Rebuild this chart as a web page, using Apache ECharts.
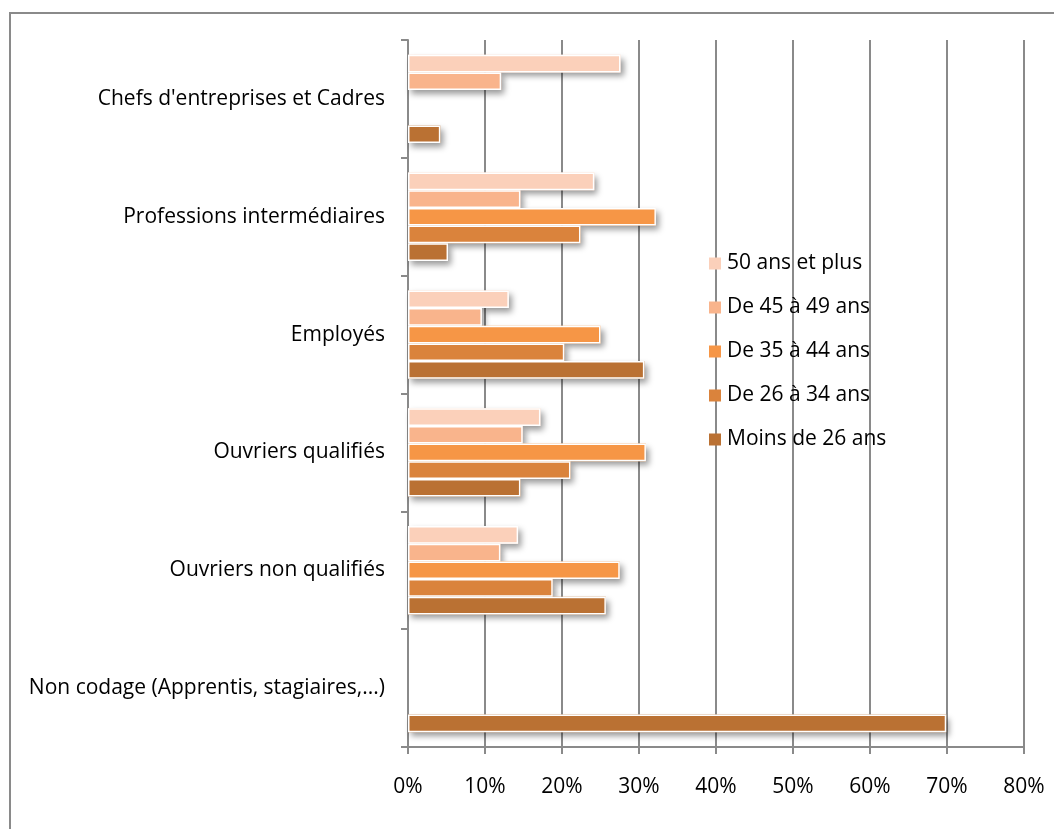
<!DOCTYPE html>
<html>
<head>
<meta charset="utf-8">
<script src="https://cdn.jsdelivr.net/npm/echarts@6/dist/echarts.min.js"></script>
<style>
  html, body { margin: 0; padding: 0; background: #fff; }
  #chart { width: 1054px; height: 829px; }
</style>
</head>
<body>
<div id="chart"></div>
<script>
// categories, top to bottom
const categories = [
  "Chefs d'entreprises et Cadres",
  'Professions intermédiaires',
  'Employés',
  'Ouvriers qualifiés',
  'Ouvriers non qualifiés',
  'Non codage (Apprentis, stagiaires,...)'
]
const seriesNames = ['50 ans et plus', 'De 45 à 49 ans', 'De 35 à 44 ans', 'De 26 à 34 ans', 'Moins de 26 ans']
// values in %
const ans50plus = [27.6, 24.2, 13.1, 17.2, 14.3, null]
const de45a49 = [12.1, 14.6, 9.6, 14.9, 12.0, null]
const de35a44 = [null, 32.2, 25.0, 30.9, 27.5, null]
const de26a34 = [null, 22.4, 20.3, 21.1, 18.8, null]
const moins26 = [4.2, 5.2, 30.7, 14.6, 25.7, 69.9]
const xTicks = [0, 10, 20, 30, 40, 50, 60, 70, 80]

const colors = ['#FBD0BA', '#F9B48C', '#F69646', '#DA833C', '#BA7133']
const values = [ans50plus, de45a49, de35a44, de26a34, moins26]
const font = '"Open Sans", "Noto Sans", sans-serif'
const gray = '#8a8a8a'

const chart = echarts.init(document.getElementById('chart'))

// shadow layer (yAxis 0) drawn first, bordered bars (yAxis 1) on top
const shadowSeries = seriesNames.map((name, i) => ({
  name: name,
  type: 'bar',
  yAxisIndex: 0,
  data: values[i],
  barGap: '0%',
  barCategoryGap: '25%',
  itemStyle: {
    color: colors[i],
    shadowColor: 'rgba(0,0,0,0.4)',
    shadowBlur: 6,
    shadowOffsetX: 3,
    shadowOffsetY: 4
  }
}))
const barSeries = seriesNames.map((name, i) => ({
  name: name,
  type: 'bar',
  yAxisIndex: 1,
  data: values[i],
  barGap: '0%',
  barCategoryGap: '25%',
  itemStyle: {
    color: colors[i],
    borderColor: '#fff',
    borderWidth: 1.5
  }
}))

chart.setOption({
  animation: false,
  textStyle: { fontFamily: font },
  graphic: [{
    type: 'rect',
    shape: { x: 10, y: 13, width: 1100, height: 900 },
    style: { fill: 'none', stroke: gray, lineWidth: 2 },
    silent: true
  }],
  grid: { left: 408, right: 30, top: 40, bottom: 82 },
  legend: {
    orient: 'vertical',
    left: 704,
    top: 248,
    itemWidth: 12,
    itemHeight: 12,
    itemGap: 23,
    icon: 'rect',
    data: seriesNames,
    textStyle: { fontSize: 21, color: '#000', fontFamily: font, padding: [0, 0, 0, 1] }
  },
  xAxis: {
    type: 'value',
    min: xTicks[0],
    max: xTicks[xTicks.length - 1],
    interval: 10,
    axisLine: { show: true, lineStyle: { color: gray, width: 2 } },
    axisTick: { show: true, length: 7, lineStyle: { color: gray, width: 2 } },
    splitLine: { show: true, lineStyle: { color: gray, width: 2 } },
    axisLabel: { formatter: '{value}%', fontSize: 21, color: '#000', margin: 30, fontFamily: font }
  },
  yAxis: [{
    type: 'category',
    inverse: true,
    data: categories,
    axisLine: { show: true, lineStyle: { color: gray, width: 2 } },
    axisTick: { show: true, length: 7, lineStyle: { color: gray, width: 2 } },
    axisLabel: { fontSize: 21, color: '#000', margin: 23, fontFamily: font }
  }, {
    type: 'category',
    inverse: true,
    position: 'left',
    data: categories,
    show: false
  }],
  series: shadowSeries.concat(barSeries)
})
</script>
</body>
</html>
